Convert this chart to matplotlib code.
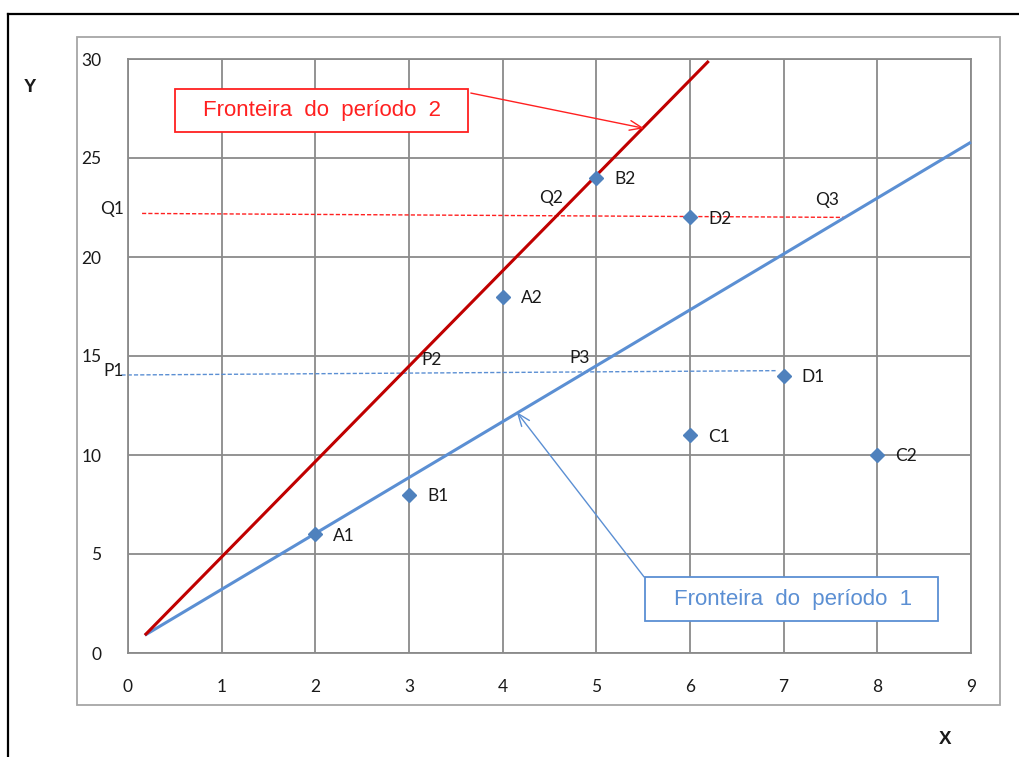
import numpy as np
import matplotlib
matplotlib.use("Agg")
import matplotlib.pyplot as plt
from matplotlib.patches import Rectangle
from matplotlib.lines import Line2D

# --- data ---
point_names = ["A1", "B1", "A2", "B2", "C1", "D2", "D1", "C2"]
point_x = [2, 3, 4, 5, 6, 6, 7, 8]
point_y = [6, 8, 18, 24, 11, 22, 14, 10]

# frontier lines (end points)
front1_x = [0.18, 9.0]
front1_y = [0.9, 25.8]
front2_x = [0.18, 6.2]
front2_y = [0.9, 29.9]

# horizontal dashed guide lines
q_line_x = [0.15, 7.65]
q_line_y = [22.2, 22.0]
p_line_x = [-0.07, 6.92]
p_line_y = [14.04, 14.26]

x_ticks = list(range(0, 10))
y_ticks = list(range(0, 31, 5))

BLUE = "#4F81BD"
LBLUE = "#5B8FD3"
DRED = "#C00000"
RED = "#FF2020"
GRID = "#8A8A8A"
TXT = "#1A1A1A"
FS = 12.5

plt.rcParams["font.family"] = ["Lato", "DejaVu Sans"]

W, H = 1020, 757
fig = plt.figure(figsize=(W / 100, H / 100), dpi=100)

# outer frames (figure pixel coords)
def px(x, y):
    return x / W, 1 - y / H

fig.add_artist(Line2D([px(8, 0)[0], px(8, 0)[0]], [px(0, 14)[1], 0], color="black", lw=1.6))
fig.add_artist(Line2D([px(8, 0)[0], 1], [px(0, 14)[1], px(0, 14)[1]], color="black", lw=1.6))
x0, y0 = px(77, 705)
x1, y1 = px(1000, 37)
fig.add_artist(Rectangle((x0, y0), x1 - x0, y1 - y0, transform=fig.transFigure,
                         fill=False, edgecolor="#A6A6A6", lw=1.3))

left, top = px(128, 59)
right, bottom = px(971, 653)
ax = fig.add_axes([left, bottom, right - left, top - bottom])
ax.set_xlim(0, 9)
ax.set_ylim(0, 30)
ax.set_xticks(x_ticks)
ax.set_yticks(y_ticks)
ax.tick_params(length=0, labelsize=FS, colors=TXT)
ax.tick_params(axis="x", pad=19)
ax.tick_params(axis="y", pad=19)
ax.grid(True, color=GRID, lw=1.3)
ax.set_axisbelow(True)
for s in ax.spines.values():
    s.set_color(GRID)
    s.set_linewidth(1.3)

# dashed guides
ax.plot(q_line_x, q_line_y, color=RED, lw=1.0, ls=(0, (3, 1.5)), clip_on=False, zorder=2)
ax.plot(p_line_x, p_line_y, color=LBLUE, lw=1.0, ls=(0, (3, 1.5)), clip_on=False, zorder=2)

# frontiers
ax.plot(front1_x, front1_y, color=LBLUE, lw=2.2, solid_capstyle="butt", clip_on=False, zorder=3)
ax.plot(front2_x, front2_y, color=DRED, lw=2.2, solid_capstyle="butt", clip_on=False, zorder=3)

# points
ax.plot(point_x, point_y, ls="none", marker="D", ms=7, color=BLUE, mec=BLUE, zorder=4)
for name, x, y in zip(point_names, point_x, point_y):
    ax.annotate(name, (x, y), xytext=(13, -1), textcoords="offset points",
                ha="left", va="center", fontsize=FS, color=TXT)

# P / Q labels
ax.text(-0.04, 22.4, "Q1", ha="right", va="center", fontsize=FS, color=TXT)
ax.text(-0.05, 14.25, "P1", ha="right", va="center", fontsize=FS, color=TXT)
ax.text(3.24, 14.8, "P2", ha="center", va="center", fontsize=FS, color=TXT)
ax.text(4.82, 14.9, "P3", ha="center", va="center", fontsize=FS, color=TXT)
ax.text(4.52, 23.0, "Q2", ha="center", va="center", fontsize=FS, color=TXT)
ax.text(7.46, 22.9, "Q3", ha="center", va="center", fontsize=FS, color=TXT)

# annotation boxes
ax.add_patch(Rectangle((0.5, 26.3), 3.13, 2.2, facecolor="white", edgecolor=RED, lw=1.3, zorder=5))
ax.text(2.07, 27.4, "Fronteira  do  período  2", ha="center", va="center",
        fontsize=16, color=RED, family=["Liberation Sans", "DejaVu Sans"], zorder=6)
ax.annotate("", xy=(5.51, 26.5), xytext=(3.66, 28.28),
            arrowprops=dict(arrowstyle="->,head_length=0.9,head_width=0.35", color=RED, lw=1.0,
                            shrinkA=0, shrinkB=0), zorder=5)

ax.add_patch(Rectangle((5.52, 1.62), 3.13, 2.22, facecolor="white", edgecolor=LBLUE, lw=1.3, zorder=5))
ax.text(7.1, 2.7, "Fronteira  do  período  1", ha="center", va="center",
        fontsize=16, color=LBLUE, family=["Liberation Sans", "DejaVu Sans"], zorder=6)
ax.annotate("", xy=(4.15, 12.17), xytext=(5.51, 3.84),
            arrowprops=dict(arrowstyle="->,head_length=0.9,head_width=0.35", color=LBLUE, lw=1.0,
                            shrinkA=0, shrinkB=0), zorder=5)

# axis names
fig.text(*px(30, 87), "Y", ha="center", va="center", fontsize=13.5, fontweight="bold",
         color=TXT, family=["Liberation Sans", "DejaVu Sans"])
fig.text(*px(945, 740), "X", ha="center", va="center", fontsize=13.5, fontweight="bold",
         color=TXT, family=["Liberation Sans", "DejaVu Sans"])

fig.savefig("out.png", dpi=100, facecolor="white")
